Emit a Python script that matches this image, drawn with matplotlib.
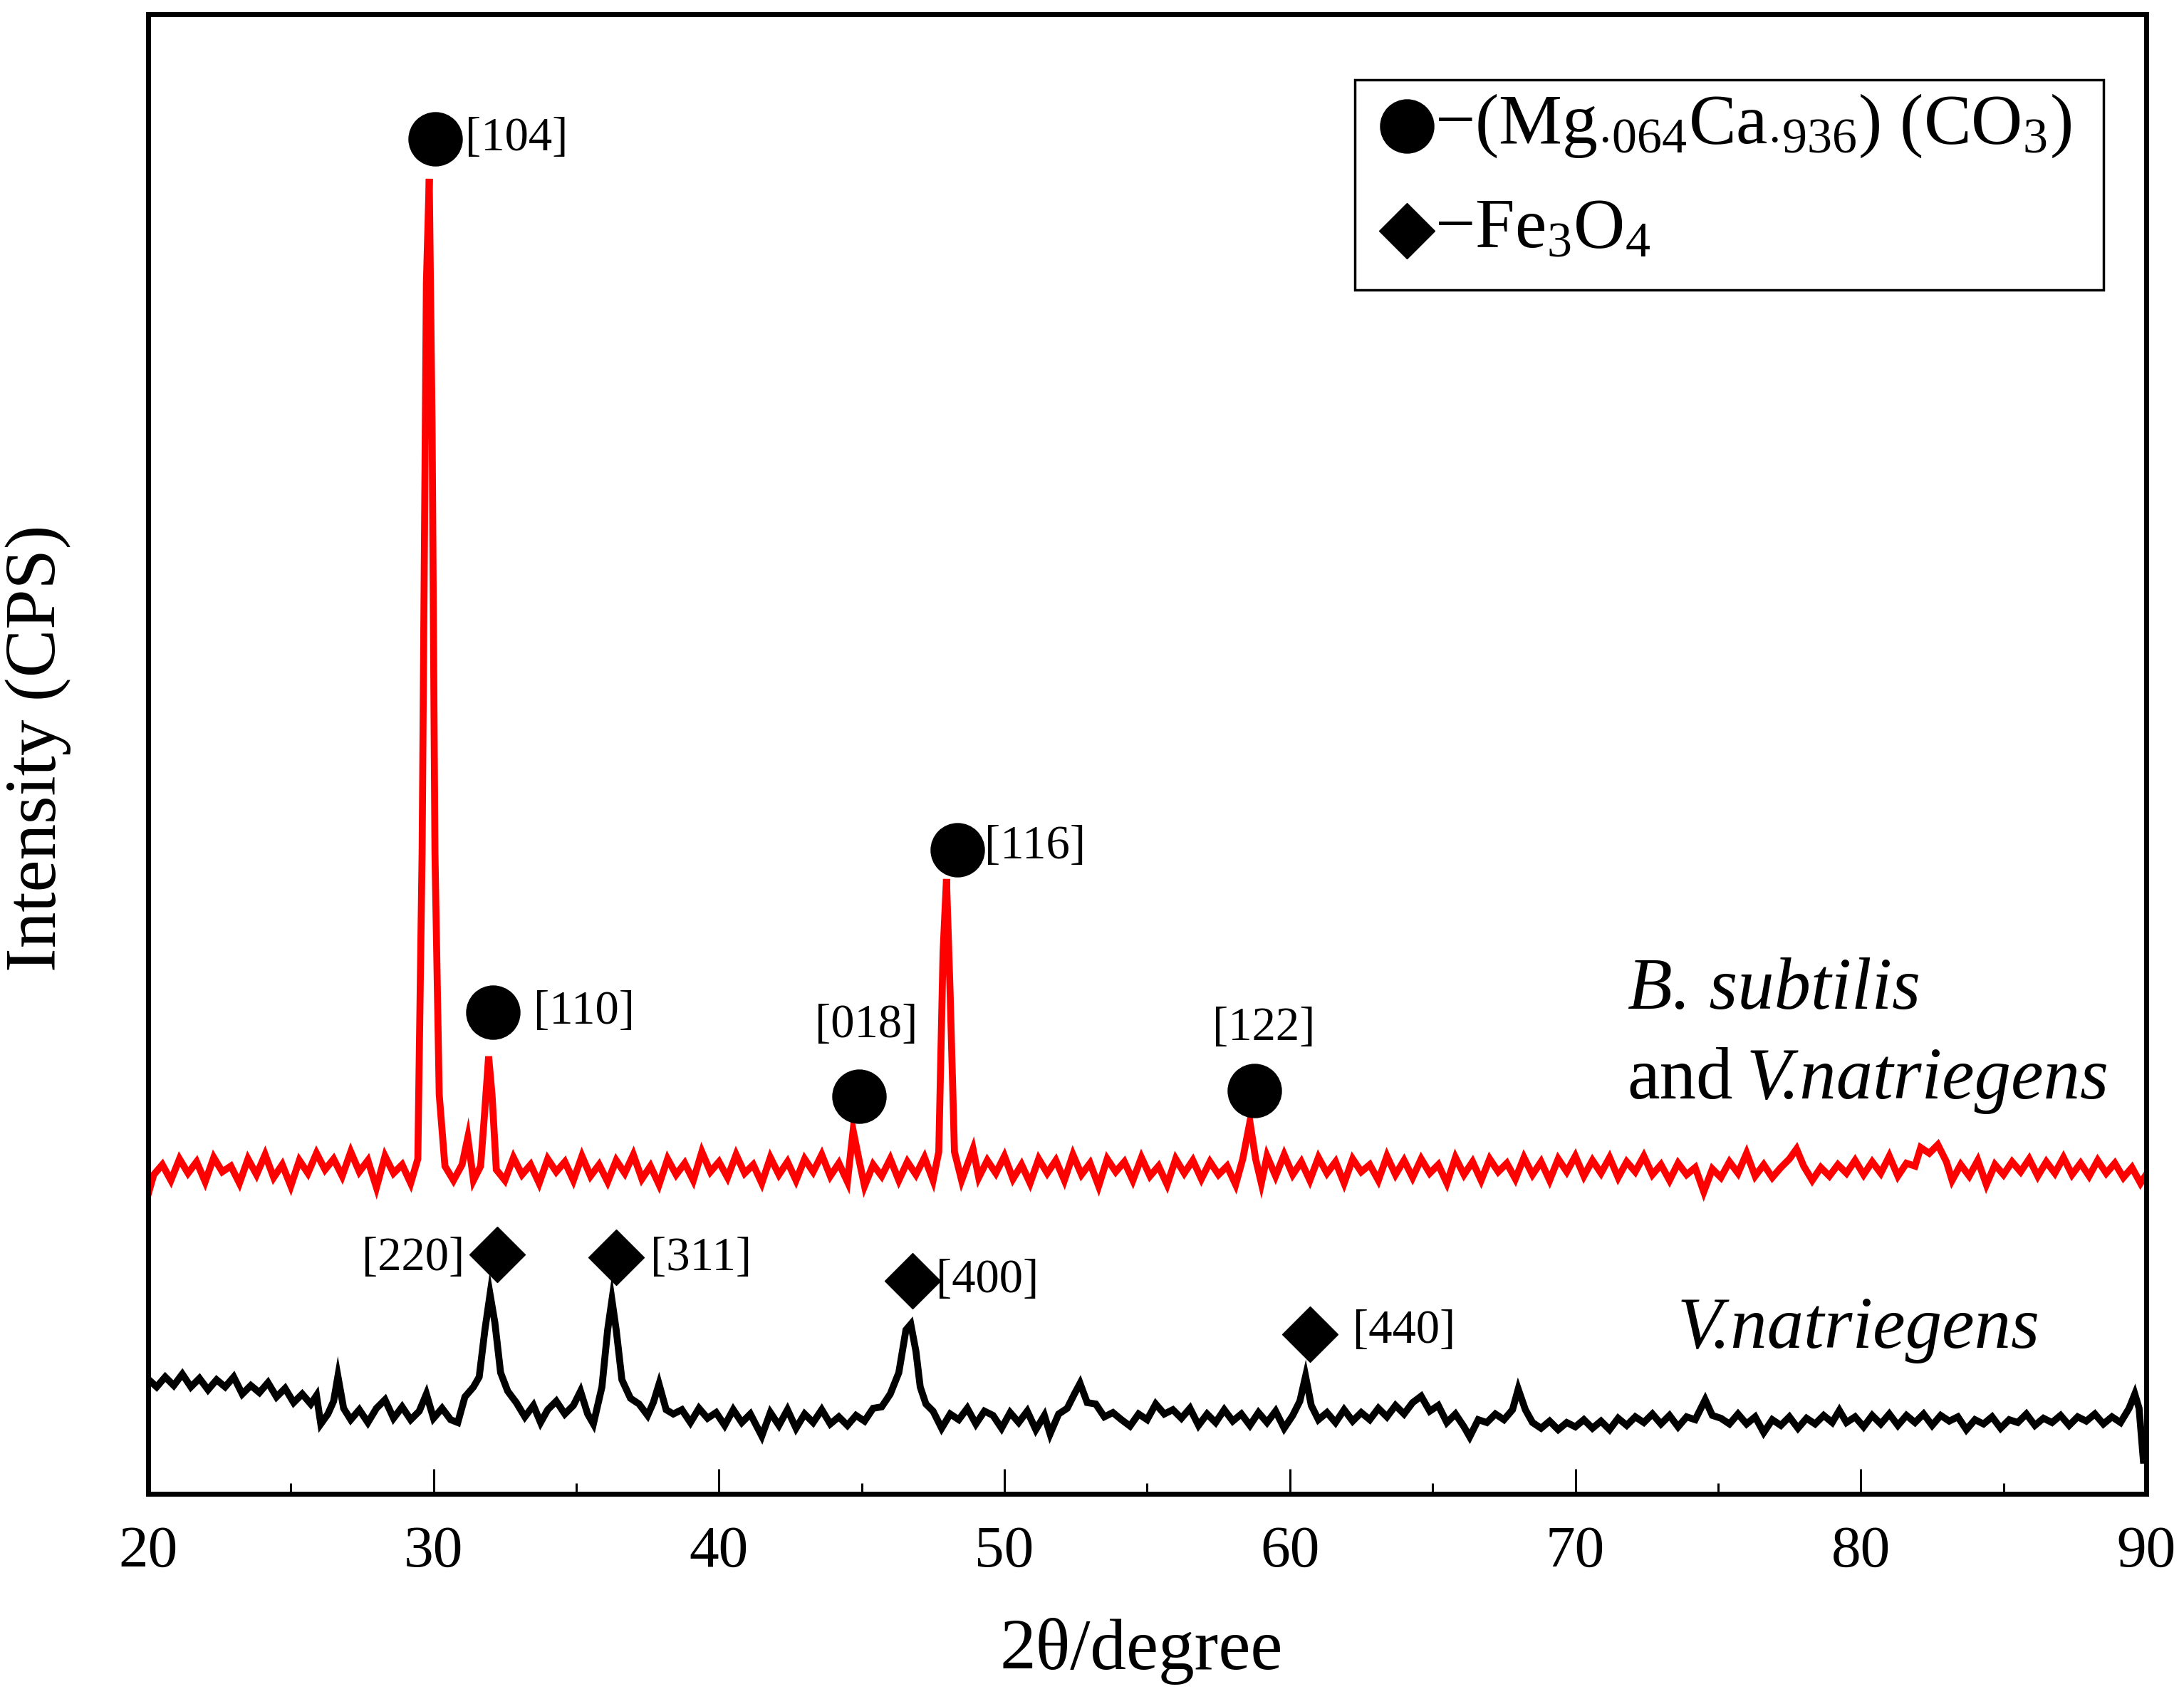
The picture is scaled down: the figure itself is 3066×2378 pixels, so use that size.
import matplotlib
matplotlib.use("Agg")
import matplotlib.pyplot as plt
from matplotlib.patches import Rectangle

plt.rcParams['font.family'] = ['Liberation Serif', 'DejaVu Serif']
plt.rcParams['mathtext.fontset'] = 'custom'
plt.rcParams['mathtext.rm'] = 'Liberation Serif'
plt.rcParams['mathtext.it'] = 'Liberation Serif:italic'
plt.rcParams['mathtext.bf'] = 'Liberation Serif:bold'

# B. subtilis and V.natriegens (red trace)
red_x = [20.0, 20.2, 20.5, 20.8, 21.1, 21.4, 21.7, 22.0, 22.3, 22.6, 22.9, 23.2, 23.5, 23.8,
         24.1, 24.4, 24.7, 25.0, 25.3, 25.6, 25.9, 26.2, 26.5, 26.8, 27.1, 27.4, 27.7, 28.0,
         28.3, 28.6, 28.9, 29.2, 29.45, 29.6, 29.75, 29.85, 29.95, 30.05, 30.2, 30.4, 30.7,
         31.0, 31.2, 31.4, 31.65, 31.8, 31.93, 32.05, 32.2, 32.5, 32.8, 33.1, 33.4, 33.7,
         34.0, 34.3, 34.6, 34.9, 35.2, 35.5, 35.8, 36.1, 36.4, 36.7, 37.0, 37.3, 37.6, 37.9,
         38.2, 38.5, 38.8, 39.1, 39.4, 39.7, 40.0, 40.3, 40.6, 40.9, 41.2, 41.5, 41.8, 42.1,
         42.4, 42.7, 43.0, 43.3, 43.6, 43.9, 44.2, 44.5, 44.7, 44.9, 45.1, 45.4, 45.7, 46.0,
         46.3, 46.6, 46.9, 47.2, 47.5, 47.7, 47.85, 47.97, 48.1, 48.25, 48.5, 48.9, 49.1,
         49.4, 49.7, 50.0, 50.3, 50.6, 50.9, 51.2, 51.5, 51.8, 52.1, 52.4, 52.7, 53.0, 53.3,
         53.6, 53.9, 54.2, 54.5, 54.8, 55.1, 55.4, 55.7, 56.0, 56.3, 56.6, 56.9, 57.2, 57.5,
         57.8, 58.1, 58.35, 58.6, 58.8, 59.0, 59.2, 59.5, 59.8, 60.1, 60.4, 60.7, 61.0, 61.3,
         61.6, 61.9, 62.2, 62.5, 62.8, 63.1, 63.4, 63.7, 64.0, 64.3, 64.6, 64.9, 65.2, 65.5,
         65.8, 66.1, 66.4, 66.7, 67.0, 67.3, 67.6, 67.9, 68.2, 68.5, 68.8, 69.1, 69.4, 69.7,
         70.0, 70.3, 70.6, 70.9, 71.2, 71.5, 71.8, 72.1, 72.4, 72.7, 73.0, 73.3, 73.6, 73.9,
         74.2, 74.5, 74.8, 75.1, 75.4, 75.7, 76.0, 76.3, 76.6, 76.9, 77.2, 77.5, 77.75, 78.0,
         78.3, 78.6, 78.9, 79.2, 79.5, 79.8, 80.1, 80.4, 80.7, 81.0, 81.3, 81.6, 81.9, 82.1,
         82.4, 82.7, 83.0, 83.2, 83.5, 83.8, 84.1, 84.4, 84.7, 85.0, 85.3, 85.6, 85.9, 86.2,
         86.5, 86.8, 87.1, 87.4, 87.7, 88.0, 88.3, 88.6, 88.9, 89.2, 89.5, 89.8, 90.0]
red_y = [420, 448, 462, 440, 470, 450, 466, 438, 472, 452, 460, 436, 470, 448,
         476, 444, 462, 432, 468, 450, 478, 455, 470, 446, 480, 452, 468, 430,
         474, 450, 462, 436, 470, 900, 1700, 1846, 1500, 900, 560, 460, 440,
         462, 500, 440, 460, 540, 614, 560, 455, 440, 472, 448, 462, 436,
         470, 452, 466, 440, 474, 446, 462, 438, 468, 450, 476, 442, 460, 434,
         470, 448, 464, 440, 480, 452, 466, 444, 476, 450, 462, 436, 472, 448,
         466, 440, 470, 452, 476, 446, 464, 438, 510, 470, 432, 462, 446, 470,
         440, 466, 448, 472, 440, 480, 760, 863, 700, 480, 440, 484, 444,
         468, 450, 474, 442, 462, 436, 470, 450, 468, 440, 476, 448, 464, 432,
         470, 452, 466, 440, 472, 446, 460, 434, 470, 450, 468, 442, 466, 448,
         460, 434, 470, 522, 470, 436, 474, 446, 476, 448, 466, 440, 472, 450,
         466, 436, 470, 452, 462, 440, 474, 448, 468, 444, 470, 450, 462, 436,
         472, 448, 466, 440, 470, 452, 464, 442, 472, 448, 466, 440, 470, 452,
         474, 446, 468, 450, 472, 444, 466, 452, 474, 448, 462, 440, 464, 448,
         458, 424, 456, 444, 466, 450, 478, 446, 462, 444, 458, 470, 484, 460,
         440, 458, 446, 462, 450, 468, 448, 466, 450, 474, 446, 464, 460, 486,
         478, 490, 466, 440, 462, 446, 468, 434, 462, 448, 466, 452, 470, 446,
         466, 450, 472, 448, 464, 446, 468, 450, 464, 444, 458, 436, 448]

# V.natriegens (black trace)
blk_x = [20.0, 20.3, 20.6, 20.9, 21.2, 21.5, 21.8, 22.1, 22.4, 22.7, 23.0, 23.3, 23.6, 23.9,
         24.2, 24.5, 24.8, 25.1, 25.4, 25.7, 25.9, 26.05, 26.3, 26.5, 26.65, 26.85, 27.1,
         27.4, 27.7, 28.0, 28.3, 28.6, 28.9, 29.2, 29.5, 29.75, 30.0, 30.3, 30.6, 30.85,
         31.1, 31.4, 31.6, 31.8, 31.98, 32.15, 32.35, 32.6, 32.9, 33.2, 33.5, 33.75, 34.0,
         34.3, 34.6, 34.9, 35.15, 35.4, 35.6, 35.9, 36.1, 36.25, 36.4, 36.6, 36.9, 37.2,
         37.5, 37.7, 37.9, 38.15, 38.4, 38.7, 39.0, 39.3, 39.6, 39.9, 40.2, 40.5, 40.8,
         41.1, 41.5, 41.8, 42.1, 42.4, 42.7, 43.0, 43.3, 43.6, 43.9, 44.2, 44.5, 44.8,
         45.1, 45.4, 45.7, 46.0, 46.3, 46.55, 46.72, 46.9, 47.05, 47.25, 47.5, 47.8, 48.1,
         48.4, 48.7, 49.0, 49.3, 49.6, 49.9, 50.2, 50.5, 50.8, 51.1, 51.4, 51.6, 51.9,
         52.2, 52.45, 52.65, 52.9, 53.2, 53.5, 53.8, 54.1, 54.4, 54.7, 55.0, 55.3, 55.6,
         55.9, 56.2, 56.5, 56.8, 57.1, 57.4, 57.7, 58.0, 58.3, 58.6, 58.9, 59.2, 59.5,
         59.8, 60.1, 60.35, 60.55, 60.75, 61.0, 61.3, 61.6, 61.9, 62.2, 62.5, 62.8, 63.1,
         63.4, 63.7, 64.0, 64.3, 64.6, 64.9, 65.2, 65.5, 65.8, 66.1, 66.3, 66.6, 66.9,
         67.2, 67.5, 67.8, 68.0, 68.25, 68.5, 68.8, 69.1, 69.4, 69.7, 70.0, 70.3, 70.6,
         70.9, 71.2, 71.5, 71.8, 72.1, 72.4, 72.7, 73.0, 73.3, 73.6, 73.9, 74.2, 74.55,
         74.8, 75.1, 75.4, 75.7, 76.0, 76.3, 76.6, 76.9, 77.2, 77.5, 77.8, 78.1, 78.4,
         78.7, 79.0, 79.25, 79.5, 79.8, 80.1, 80.4, 80.7, 81.0, 81.3, 81.6, 81.9, 82.2,
         82.5, 82.8, 83.1, 83.4, 83.7, 84.0, 84.3, 84.6, 84.9, 85.2, 85.5, 85.8, 86.1,
         86.4, 86.7, 87.0, 87.3, 87.6, 87.9, 88.2, 88.5, 88.8, 89.1, 89.4, 89.6, 89.75,
         89.9, 90.0]
blk_y = [161, 150, 164, 152, 168, 150, 162, 146, 160, 150, 164, 140, 152, 142,
         156, 136, 148, 128, 140, 126, 138, 98, 112, 130, 165, 120, 104,
         118, 100, 120, 132, 106, 122, 104, 116, 140, 106, 120, 104, 100,
         136, 150, 164, 230, 280, 240, 170, 144, 128, 108, 124, 100, 118,
         130, 112, 124, 144, 112, 98, 150, 230, 272, 230, 160, 134, 126,
         110, 128, 154, 118, 112, 118, 100, 120, 106, 114, 96, 118, 100,
         112, 81, 114, 96, 118, 92, 112, 100, 118, 98, 108, 96, 110,
         102, 120, 122, 140, 170, 230, 238, 200, 150, 126, 116, 92, 112,
         104, 120, 98, 116, 110, 92, 114, 100, 116, 90, 110, 84, 112,
         120, 140, 155, 128, 126, 108, 114, 104, 95, 112, 104, 126, 112,
         118, 106, 120, 96, 112, 100, 118, 102, 112, 96, 114, 100, 116,
         92, 110, 130, 165, 124, 104, 114, 100, 118, 102, 114, 104, 120,
         108, 124, 112, 128, 137, 116, 124, 100, 112, 94, 80, 104, 100,
         112, 104, 118, 147, 118, 100, 92, 102, 90, 100, 94, 104, 92,
         102, 90, 106, 96, 108, 100, 112, 98, 110, 94, 108, 104, 132,
         110, 106, 98, 112, 98, 108, 86, 104, 96, 108, 92, 106, 98,
         110, 100, 117, 100, 108, 94, 110, 98, 112, 96, 110, 100, 112,
         96, 110, 102, 108, 90, 104, 98, 108, 92, 104, 100, 112, 96,
         106, 100, 110, 96, 108, 102, 112, 98, 108, 100, 120, 140, 120,
         47, 47]

# peak markers (x, y) and their hkl labels
calcite_x = [30.06, 32.08, 44.92, 48.35, 58.75]
calcite_y = [1902, 676, 558, 904, 566]
calcite_lbl = ['[104]', '[110]', '[018]', '[116]', '[122]']
calcite_lx = [31.1, 33.5, 45.16, 49.3, 59.08]
calcite_ly = [1902, 676, 657, 908, 653]
calcite_ha = ['left', 'left', 'center', 'left', 'center']

magnet_x = [32.22, 36.39, 46.78, 60.7]
magnet_y = [336, 332, 299, 224]
magnet_lbl = ['[220]', '[311]', '[400]', '[440]']
magnet_lx = [31.1, 37.6, 47.6, 62.2]
magnet_ly = [330, 330, 299, 228]
magnet_ha = ['right', 'left', 'left', 'left']

fig = plt.figure(figsize=(30.66, 23.78), dpi=100)
ax = fig.add_axes([0.0678, 0.1182, 0.9149, 0.8734])

ax.plot(red_x, red_y, color='#ff0000', lw=7, solid_joinstyle='miter')
ax.plot(blk_x, blk_y, color='black', lw=7, solid_joinstyle='miter')

ax.plot(calcite_x, calcite_y, 'o', color='black', ms=54, ls='none')
ax.plot(magnet_x, magnet_y, 'D', color='black', ms=40, ls='none')
for x, y, t, h in zip(calcite_lx, calcite_ly, calcite_lbl, calcite_ha):
    ax.text(x, y, t, fontsize=48, ha=h, va='center')
for x, y, t, h in zip(magnet_lx, magnet_ly, magnet_lbl, magnet_ha):
    ax.text(x, y, t, fontsize=48, ha=h, va='center')

# sample names
ax.text(71.83, 706, 'B. subtilis', fontsize=74, style='italic', ha='left', va='center')
ax.text(71.83, 580, 'and', fontsize=74, ha='left', va='center')
ax.text(76.0, 580, 'V.natriegens', fontsize=74, style='italic', ha='left', va='center')
ax.text(73.56, 230, 'V.natriegens', fontsize=74, style='italic', ha='left', va='center')

# legend box
ax.add_patch(Rectangle((0.604, 0.8137), 0.3746, 0.142, transform=ax.transAxes,
                       fill=False, lw=2.5, ec='black', zorder=5))
ax.plot([0.630], [0.9244], 'o', color='black', ms=54, transform=ax.transAxes)
ax.plot([0.630], [0.8536], 'D', color='black', ms=40, transform=ax.transAxes)
ax.text(0.644, 0.9244, r'−(Mg$_{\cdot 064}$Ca$_{\cdot 936}$) (CO$_3$)', fontsize=72,
        ha='left', va='center', transform=ax.transAxes)
ax.text(0.644, 0.8536, r'−Fe$_3$O$_4$', fontsize=72,
        ha='left', va='center', transform=ax.transAxes)

ax.set_xlim(20, 90)
ax.set_ylim(0, 2077)
ax.set_xticks([20, 30, 40, 50, 60, 70, 80, 90])
ax.set_xticks([25, 35, 45, 55, 65, 75, 85], minor=True)
ax.set_yticks([])
ax.tick_params(axis='x', which='major', direction='in', length=25, width=2.2,
               labelsize=60, pad=32, top=False)
ax.tick_params(axis='x', which='minor', direction='in', length=11, width=2.2, top=False)
for s in ax.spines.values():
    s.set_linewidth(5)

ax.set_xlabel('2θ/degree', fontsize=73)
ax.xaxis.set_label_coords(0.497, -0.084)
ax.xaxis.label.set_va('top')
ax.set_ylabel('Intensity (CPS)', fontsize=73)
ax.yaxis.set_label_coords(-0.0385, 0.504)

fig.savefig('out.png', dpi=100)
